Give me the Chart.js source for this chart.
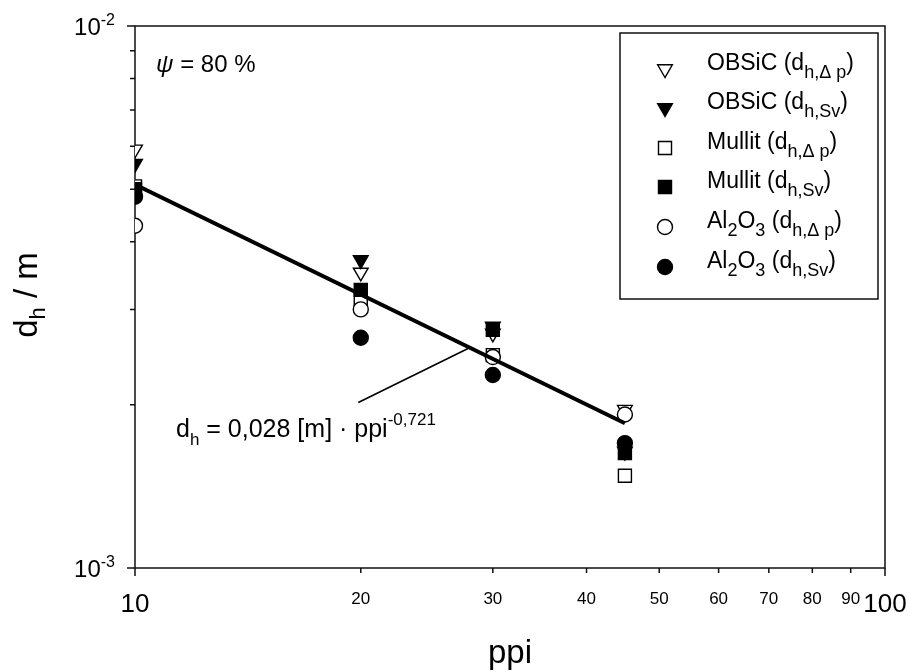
<!DOCTYPE html>
<html><head><meta charset="utf-8">
<script src="https://cdn.jsdelivr.net/npm/chart.js@4.4.0/dist/chart.umd.min.js"></script>
<style>html,body{margin:0;padding:0;background:#fff;} canvas{display:block;}</style>
</head><body>
<canvas id="c" width="909" height="672"></canvas>
<script>
// ---- data ----
const ppi = [10, 20, 30, 45];
const obsicDp  = [5.92e-3, 3.51e-3, 2.71e-3, 1.96e-3];
const obsicSv  = [5.57e-3, 3.70e-3, 2.79e-3, 1.64e-3];
const mullitDp = [5.06e-3, 3.12e-3, 2.47e-3, 1.48e-3];
const mullitSv = [5.00e-3, 3.26e-3, 2.75e-3, 1.63e-3];
const al2o3Dp  = [4.28e-3, 3.00e-3, 2.45e-3, 1.92e-3];
const al2o3Sv  = [4.84e-3, 2.66e-3, 2.27e-3, 1.70e-3];
const fitX = [10, 45];
const fitY = [5.10e-3, 1.85e-3];
const pointerX = [19.85, 27.8];
const pointerY = [2.02e-3, 2.54e-3];
const xTicks = [10, 20, 30, 40, 50, 60, 70, 80, 90, 100];
const xMajorTicks = [10, 100];
const yMinorTicks = [2e-3, 3e-3, 4e-3, 5e-3, 6e-3, 7e-3, 8e-3, 9e-3];
const yMajorTicks = [1e-3, 1e-2];
const yMajorExp = ['-3', '-2'];

const FONT = '"Liberation Sans", Arial, Helvetica, sans-serif';

const seriesDefs = [
  {data: obsicDp,  style: 'triangle', rot: 180, fill: '#fff', r: 8.5,
   label: [['OBSiC (d','n'],['h,\u0394 p','s'],[')','n']]},
  {data: obsicSv,  style: 'triangle', rot: 180, fill: '#000', r: 8.5,
   label: [['OBSiC (d','n'],['h,Sv','s'],[')','n']]},
  {data: mullitDp, style: 'rect', rot: 0, fill: '#fff', r: 9.2,
   label: [['Mullit (d','n'],['h,\u0394 p','s'],[')','n']]},
  {data: mullitSv, style: 'rect', rot: 0, fill: '#000', r: 9.2,
   label: [['Mullit (d','n'],['h,Sv','s'],[')','n']]},
  {data: al2o3Dp,  style: 'circle', rot: 0, fill: '#fff', r: 7.5,
   label: [['Al','n'],['2','s'],['O','n'],['3','s'],[' (d','n'],['h,\u0394 p','s'],[')','n']]},
  {data: al2o3Sv,  style: 'circle', rot: 0, fill: '#000', r: 7.5,
   label: [['Al','n'],['2','s'],['O','n'],['3','s'],[' (d','n'],['h,Sv','s'],[')','n']]}
];

const datasets = seriesDefs.map((s, i) => ({
  type: 'scatter',
  data: ppi.map((p, j) => ({x: p, y: s.data[j]})),
  pointStyle: s.style,
  rotation: s.rot,
  pointRadius: s.r,
  pointHoverRadius: s.r,
  backgroundColor: s.fill,
  borderColor: '#000',
  borderWidth: 1.4,
  order: 10 - i
}));
datasets.push({
  type: 'line',
  data: fitX.map((v, j) => ({x: v, y: fitY[j]})),
  borderColor: '#000', borderWidth: 4, pointRadius: 0, fill: false, order: 0
});
datasets.push({
  type: 'line',
  data: pointerX.map((v, j) => ({x: v, y: pointerY[j]})),
  borderColor: '#000', borderWidth: 1.6, pointRadius: 0, fill: false, order: 0
});

function richWidth(ctx, segs, size, sub) {
  let w = 0;
  segs.forEach(([t, m]) => {
    ctx.font = (m === 'n' ? size : sub) + 'px ' + FONT;
    w += ctx.measureText(t).width;
  });
  return w;
}
function drawRich(ctx, x, y, segs, size, sub, subDy, supDy) {
  let cx = x;
  segs.forEach(([t, m]) => {
    let dy = 0, fs = size;
    if (m === 's') { fs = sub; dy = subDy; }
    if (m === 'u') { fs = sub; dy = -supDy; }
    ctx.font = fs + 'px ' + FONT;
    ctx.fillText(t, cx, y + dy);
    cx += ctx.measureText(t).width;
  });
  return cx;
}

const axesPlugin = {
  id: 'axesPlugin',
  beforeDatasetsDraw(chart) {
    const {ctx, chartArea: a, scales: {x, y}} = chart;
    ctx.save();
    ctx.strokeStyle = '#111';
    ctx.lineWidth = 1.5;
    ctx.beginPath();
    ctx.rect(a.left, a.top, a.right - a.left, a.bottom - a.top);
    ctx.stroke();
    ctx.beginPath();
    xTicks.forEach(v => {
      const px = x.getPixelForValue(v);
      const len = xMajorTicks.includes(v) ? 8 : 5;
      ctx.moveTo(px, a.bottom); ctx.lineTo(px, a.bottom + len);
    });
    yMinorTicks.forEach(v => {
      const py = y.getPixelForValue(v);
      ctx.moveTo(a.left, py); ctx.lineTo(a.left - 5, py);
    });
    yMajorTicks.forEach(v => {
      const py = y.getPixelForValue(v);
      ctx.moveTo(a.left, py); ctx.lineTo(a.left - 8, py);
    });
    ctx.stroke();

    // legend box
    ctx.lineWidth = 1.5;
    ctx.strokeRect(620, 33, 258, 266);
    ctx.restore();
  },
  afterDraw(chart) {
    const {ctx, chartArea: a, scales: {x, y}} = chart;
    ctx.save();
    ctx.fillStyle = '#000';
    ctx.textBaseline = 'alphabetic';

    // x tick labels
    xTicks.forEach(v => {
      const px = x.getPixelForValue(v);
      const major = xMajorTicks.includes(v);
      ctx.font = (major ? 26 : 17) + 'px ' + FONT;
      ctx.textAlign = 'center';
      ctx.fillText(String(v), px, major ? 612 : 604);
    });
    // y tick labels 10^n
    ctx.textAlign = 'left';
    yMajorTicks.forEach((v, i) => {
      const py = y.getPixelForValue(v);
      const segs = [['10','n'],[yMajorExp[i],'u']];
      const w = richWidth(ctx, segs, 24, 16);
      drawRich(ctx, 115 - w, py + 9, segs, 24, 16, 0, 10);
    });

    // axis titles
    ctx.textAlign = 'left';
    const xt = [['ppi','n']];
    const xw = richWidth(ctx, xt, 33, 22);
    drawRich(ctx, 510 - xw / 2, 663, xt, 33, 22, 0, 0);

    const yt = [['d','n'],['h','s'],[' / m','n']];
    const yw = richWidth(ctx, yt, 33, 22);
    ctx.save();
    ctx.translate(37, 295);
    ctx.rotate(-Math.PI / 2);
    drawRich(ctx, -yw / 2, 0, yt, 33, 22, 8, 0);
    ctx.restore();

    // annotations
    ctx.font = 'italic 24px ' + FONT;
    ctx.fillText('\u03C8', 156, 72);
    const psiW = ctx.measureText('\u03C8').width;
    ctx.font = '24px ' + FONT;
    ctx.fillText(' = 80 %', 156 + psiW, 72);

    const formula = [['d','n'],['h','s'],[' = 0,028 [m] \u00B7 ppi','n'],['-0,721','u']];
    drawRich(ctx, 176, 437, formula, 25, 17, 8, 12);

    // legend
    const rows = [69, 108, 148, 187, 227, 267];
    seriesDefs.forEach((s, i) => {
      const cy = rows[i];
      ctx.fillStyle = s.fill;
      ctx.strokeStyle = '#000';
      ctx.lineWidth = 1.4;
      Chart.helpers.drawPoint(ctx, {pointStyle: s.style, rotation: s.rot, radius: s.r, borderWidth: 1.4}, 665, cy);
      ctx.fillStyle = '#000';
      drawRich(ctx, 707, cy + 1, s.label, 23, 18, 8, 0);
    });
    ctx.restore();
  }
};

new Chart(document.getElementById('c'), {
  type: 'scatter',
  data: {datasets},
  options: {
    responsive: false,
    animation: false,
    events: [],
    layout: {padding: {left: 135, top: 26, right: 24, bottom: 104}},
    plugins: {legend: {display: false}, tooltip: {enabled: false}},
    scales: {
      x: {type: 'logarithmic', min: 10, max: 100, display: false},
      y: {type: 'logarithmic', min: 1e-3, max: 1e-2, display: false}
    }
  },
  plugins: [axesPlugin]
});
</script>
</body></html>
